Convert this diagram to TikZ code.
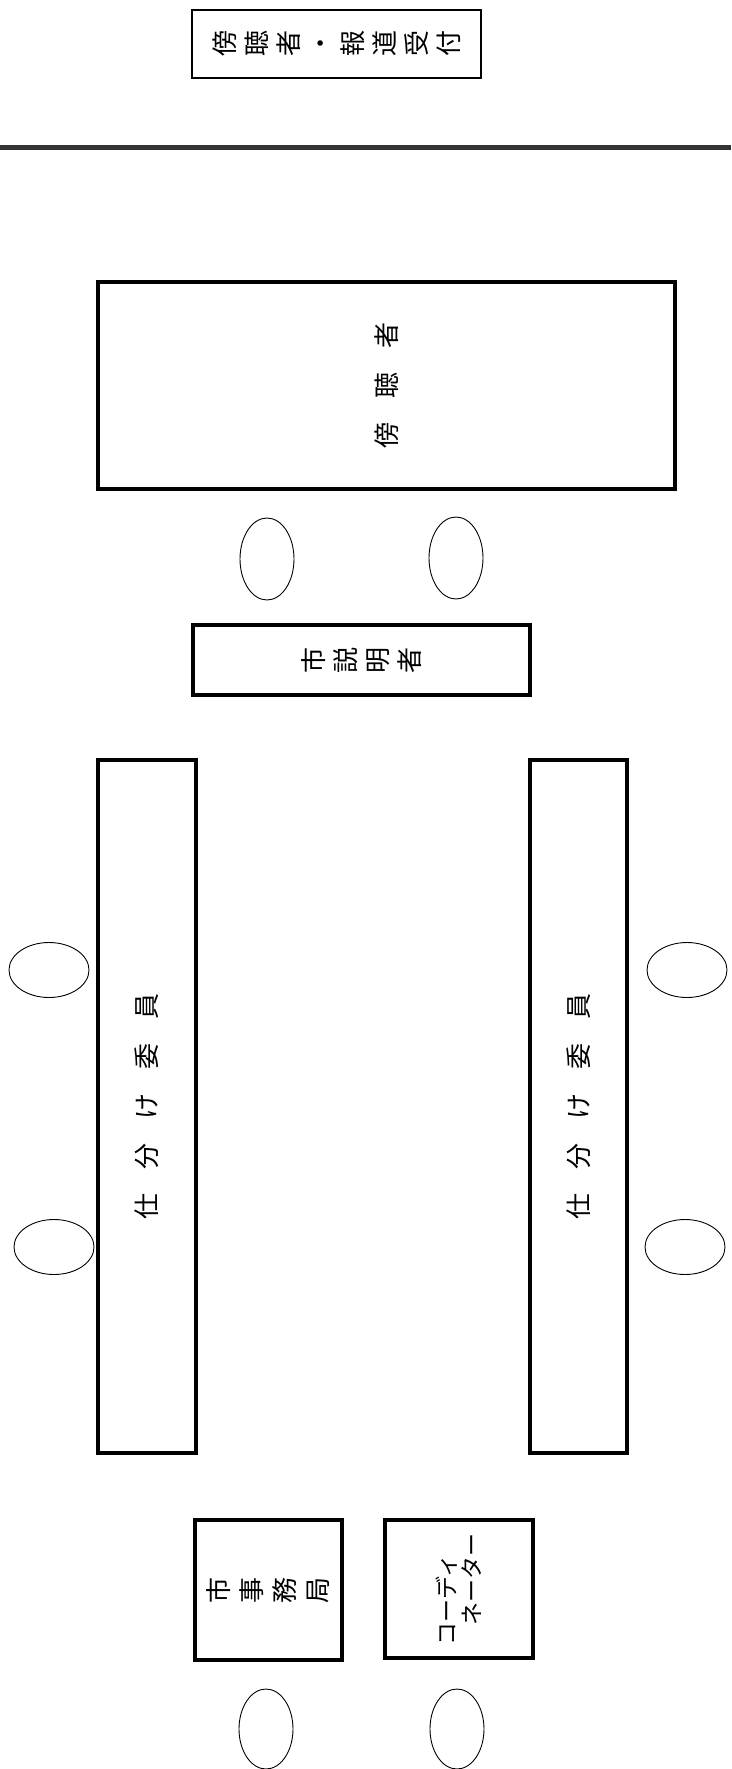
\documentclass[tikz,border=0pt]{standalone}
\usepackage{fontspec}
\newfontfamily\jp{Noto Sans CJK JP}
\usetikzlibrary{shapes.geometric}
\begin{document}
\begin{tikzpicture}[x=1pt,y=-1pt,
  box/.style={draw, line width=3.2pt, inner sep=0pt, rotate=90, align=center,
              font=\jp\fontsize{26}{32}\selectfont},
  seat/.style={draw, ellipse, line width=0.9pt, inner sep=0pt},
  wall/.style={line width=5pt, draw=black!80}]
\useasboundingbox (0,0) rectangle (731,1769);

% reception
\node[box, line width=2.4pt, minimum width=68pt, minimum height=289pt] (reception) at (336.5,44)
  {傍\\聴\\者\\・\\報\\道\\受\\付};

% partition line
\coordinate (wallL) at (0,147.5);
\coordinate (wallR) at (731,147.5);
\draw[wall] (wallL) -- (wallR);

% audience
\node[box, minimum width=207pt, minimum height=577pt] (audience) at (386.5,385.5)
  {傍\hspace{24pt}聴\hspace{24pt}者};

% explainer seats
\node[seat, minimum width=54pt, minimum height=82pt] (s1) at (267,559) {};
\node[seat, minimum width=54pt, minimum height=82pt] (s2) at (456,558) {};

% city explainer
\node[box, minimum width=70pt, minimum height=337pt] (explainer) at (361.5,660)
  {市\\説\\明\\者};

% committee tables
\node[box, minimum width=693pt, minimum height=98pt] (left) at (147,1106.5)
  {仕\hspace{24pt}分\hspace{24pt}け\hspace{24pt}委\hspace{24pt}員};
\node[box, minimum width=693pt, minimum height=97pt] (right) at (578.5,1106.5)
  {仕\hspace{24pt}分\hspace{24pt}け\hspace{24pt}委\hspace{24pt}員};

% committee seats
\node[seat, minimum width=80pt, minimum height=55pt] (l1) at (49,970) {};
\node[seat, minimum width=80pt, minimum height=55pt] (l2) at (54,1247) {};
\node[seat, minimum width=80pt, minimum height=55pt] (r1) at (687,970) {};
\node[seat, minimum width=80pt, minimum height=55pt] (r2) at (685,1247) {};

% secretariat and coordinator
\node[box, minimum width=140pt, minimum height=147pt, font=\jp\fontsize{26}{33}\selectfont] (secretariat) at (268.5,1590)
  {市\\事\\務\\局};
\node[box, minimum width=138pt, minimum height=148pt, align=left, font=\jp\fontsize{23}{25}\selectfont] (coord) at (459,1589)
  {コーディ\\\hspace{20pt}ネーター\hspace{12pt}};

% bottom seats
\node[seat, minimum width=54pt, minimum height=80pt] (b1) at (266,1729) {};
\node[seat, minimum width=54pt, minimum height=80pt] (b2) at (457,1729) {};
\end{tikzpicture}
\end{document}
